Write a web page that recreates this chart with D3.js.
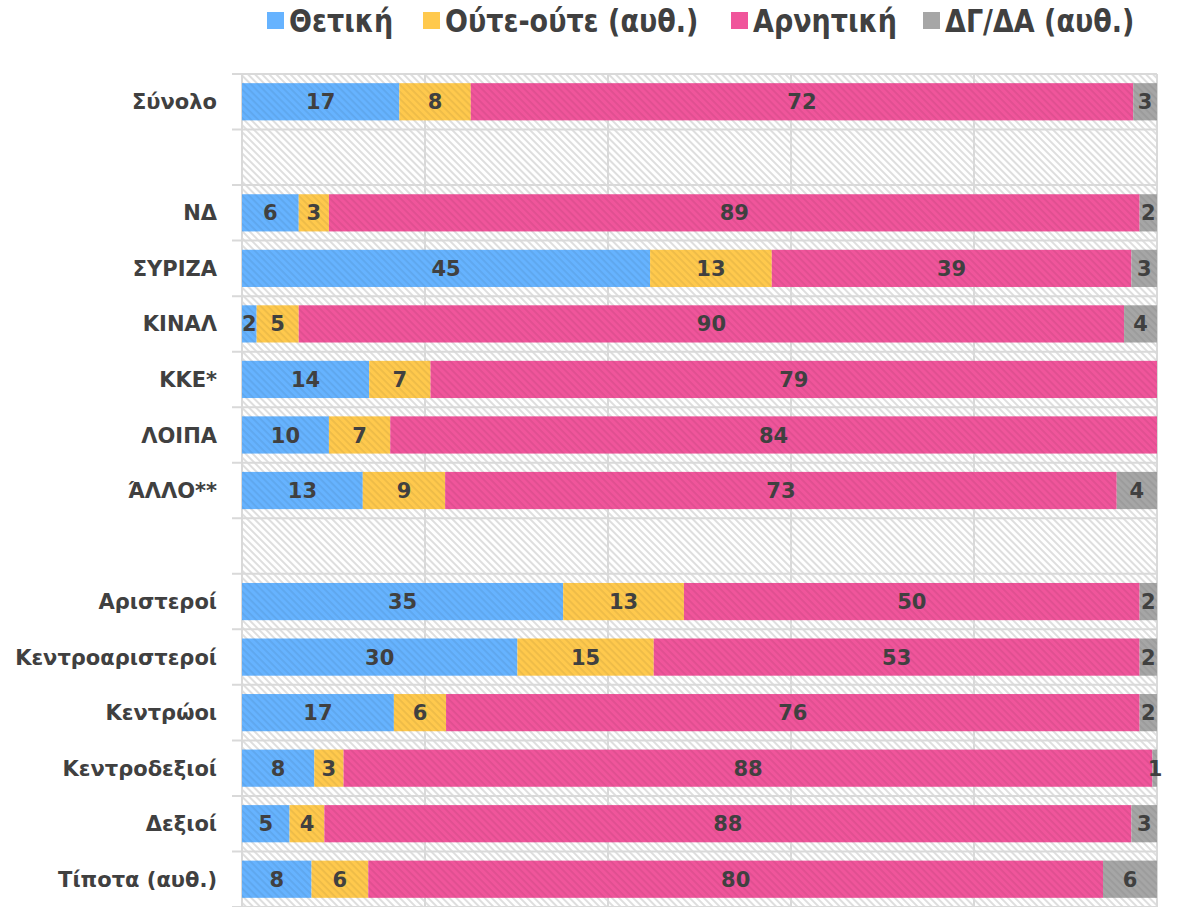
<!DOCTYPE html>
<html>
<head>
<meta charset="utf-8">
<script src="https://cdn.jsdelivr.net/npm/d3@7"></script>
<style>
  body { margin: 0; background: #fff; }
  text { font-family: "DejaVu Sans", sans-serif; font-weight: bold; fill: #404040; }
</style>
</head>
<body>
<div id="chart"></div>
<script>
// categories (blank strings are spacer rows)
var categories = ["Σύνολο", "", "ΝΔ", "ΣΥΡΙΖΑ", "ΚΙΝΑΛ", "ΚΚΕ*", "ΛΟΙΠΑ", "ΆΛΛΟ**", " ",
    "Αριστεροί", "Κεντροαριστεροί", "Κεντρώοι", "Κεντροδεξιοί", "Δεξιοί", "Τίποτα (αυθ.)"];
var seriesNames = ["Θετική", "Ούτε-ούτε (αυθ.)", "Αρνητική", "ΔΓ/ΔΑ (αυθ.)"];
// values (labels show them rounded)
var positive = [17.2, null, 6.2, 44.6, 1.6, 13.9, 9.5, 13.2, null, 35.1, 30.1, 16.6, 7.9, 5.2, 7.6];
var neutral  = [7.8, null, 3.3, 13.3, 4.6, 6.7, 6.7, 9.0, null, 13.2, 14.9, 5.7, 3.2, 3.8, 6.2];
var negative = [72.4, null, 88.6, 39.3, 90.2, 79.4, 83.8, 73.4, null, 49.8, 53.1, 75.8, 88.4, 88.2, 80.3];
var dkna     = [2.6, null, 1.9, 2.8, 3.6, 0, 0, 4.4, null, 1.9, 1.9, 1.9, 0.6, 2.8, 5.9];
var xTicks = [0, 20, 40, 60, 80, 100];

var colors = ["#66b3ff", "#ffc94d", "#f0559b", "#a6a6a6"];

var svg = d3.select("#chart").append("svg")
    .attr("width", 1178)
    .attr("height", 907);

var margin = { top: 74, right: 21, bottom: 0, left: 242 },
    width = 1178 - margin.left - margin.right,
    height = 907 - margin.top - margin.bottom;

var defs = svg.append("defs");

// background hatch
var bg = defs.append("pattern")
    .attr("id", "bgHatch")
    .attr("width", 5).attr("height", 5)
    .attr("patternUnits", "userSpaceOnUse")
    .attr("patternTransform", "rotate(45)");
bg.append("rect").attr("width", 5).attr("height", 5).attr("fill", "#fff");
bg.append("rect").attr("width", 5).attr("height", 2).attr("fill", "#dedede");

// bar hatches
colors.forEach(function (c, i) {
    var p = defs.append("pattern")
        .attr("id", "barHatch" + i)
        .attr("width", 5).attr("height", 5)
        .attr("patternUnits", "userSpaceOnUse")
        .attr("patternTransform", "rotate(45)");
    p.append("rect").attr("width", 5).attr("height", 5).attr("fill", c);
    p.append("rect").attr("width", 5).attr("height", 1.8).attr("fill", d3.color(c).darker(0.2));
});

var x = d3.scaleLinear().domain([0, 100]).range([0, 915]);
var y = d3.scaleBand().domain(categories).range([0, height]).paddingInner(0.33).paddingOuter(0.165);

defs.append("clipPath").attr("id", "plotClip")
    .append("rect").attr("width", x(100)).attr("height", height);

var g = svg.append("g")
    .attr("transform", "translate(" + margin.left + "," + margin.top + ")");

g.append("rect")
    .attr("width", x(100)).attr("height", height)
    .attr("fill", "url(#bgHatch)");

// vertical gridlines
g.selectAll(".grid")
    .data(xTicks)
    .enter().append("line")
    .attr("x1", function (d) { return x(d); })
    .attr("x2", function (d) { return x(d); })
    .attr("y1", 0).attr("y2", height)
    .attr("stroke", "#d9d9d9").attr("stroke-width", 2);

// category boundary ticks
var step = y.step();
var bounds = d3.range(categories.length + 1).map(function (i) { return i * step; });
g.selectAll(".sep")
    .data(bounds)
    .enter().append("line")
    .attr("x1", -10).attr("x2", x(100))
    .attr("y1", function (d) { return d; }).attr("y2", function (d) { return d; })
    .attr("stroke", "#d9d9d9").attr("stroke-width", 2);

var rows = categories.map(function (c, i) {
    return { cat: c, vals: [positive[i], neutral[i], negative[i], dkna[i]] };
});

var segs = [];
rows.forEach(function (r) {
    if (r.vals[0] === null) return;
    var acc = 0;
    r.vals.forEach(function (v, k) {
        segs.push({ cat: r.cat, k: k, v: v, x0: acc, x1: acc + v });
        acc += v;
    });
});
segs = segs.filter(function (d) { return d.v > 0; });

var barG = g.append("g").attr("clip-path", "url(#plotClip)");
barG.selectAll("rect.bar")
    .data(segs)
    .enter().append("rect")
    .attr("class", "bar")
    .attr("x", function (d) { return x(d.x0); })
    .attr("width", function (d) { return x(d.x1) - x(d.x0); })
    .attr("y", function (d) { return y(d.cat); })
    .attr("height", y.bandwidth())
    .attr("fill", function (d) { return "url(#barHatch" + d.k + ")"; });

// value labels
g.selectAll("text.val")
    .data(segs)
    .enter().append("text")
    .attr("class", "val")
    .attr("x", function (d) { return x((d.x0 + d.x1) / 2); })
    .attr("y", function (d) { return y(d.cat) + y.bandwidth() / 2; })
    .attr("dy", "0.36em")
    .attr("text-anchor", "middle")
    .style("font-size", "21px")
    .text(function (d) { return Math.round(d.v); });

// y axis labels
g.selectAll("text.cat")
    .data(categories.filter(function (c) { return c.trim() !== ""; }))
    .enter().append("text")
    .attr("class", "cat")
    .attr("x", -25)
    .attr("y", function (d) { return y(d) + y.bandwidth() / 2; })
    .attr("dy", "0.36em")
    .attr("text-anchor", "end")
    .style("font-size", "21px")
    .text(function (d) { return d; });

// legend
var legendX = [267, 423, 731, 923];
var legend = svg.selectAll(".legend")
    .data(seriesNames)
    .enter().append("g")
    .attr("transform", function (d, i) { return "translate(" + legendX[i] + ",0)"; });
legend.append("rect")
    .attr("y", 12).attr("width", 17).attr("height", 17)
    .attr("fill", function (d, i) { return colors[i]; });
legend.append("text")
    .attr("transform", "translate(22,20) scale(1,1.2)")
    .attr("dy", "0.36em")
    .style("font-size", "27px")
    .text(function (d) { return d; });
</script>
</body>
</html>
